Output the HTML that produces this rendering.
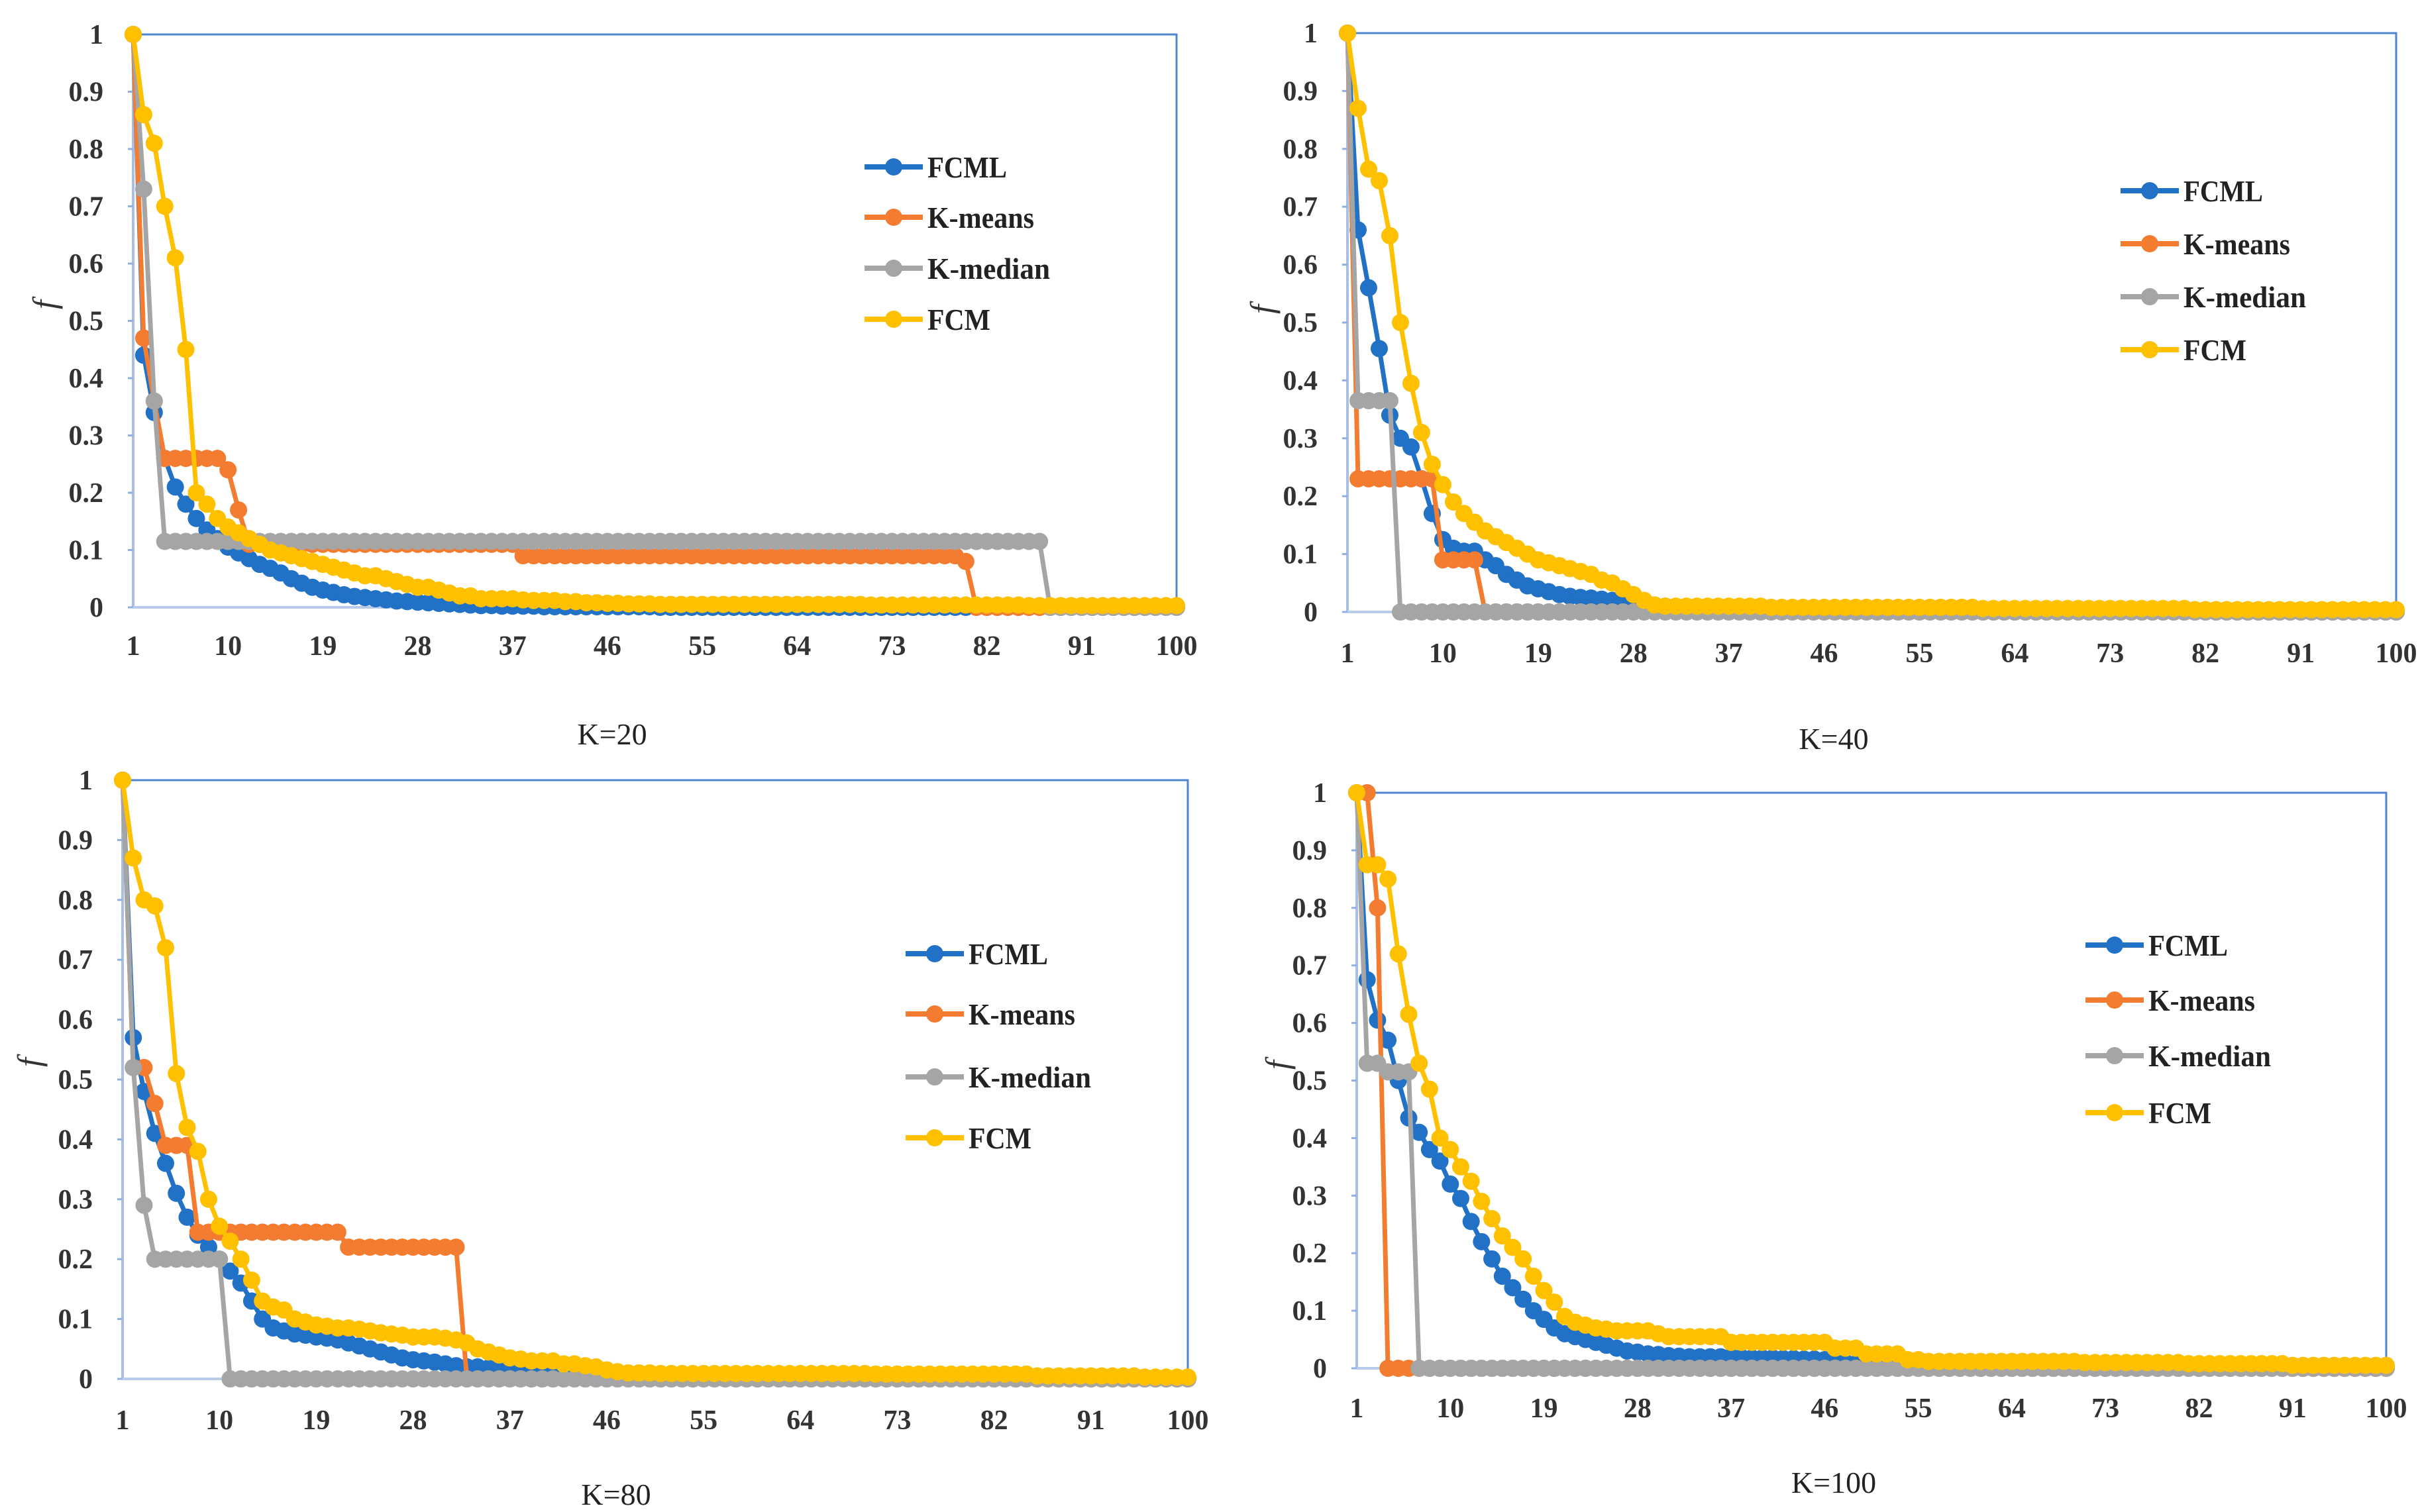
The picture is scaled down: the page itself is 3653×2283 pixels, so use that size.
<!DOCTYPE html>
<html><head><meta charset="utf-8"><style>
html,body{margin:0;padding:0;background:#fff;}
svg{display:block;}
</style></head><body>
<svg id="fig" width="3653" height="2283" viewBox="0 0 3653 2283" xmlns="http://www.w3.org/2000/svg">
<rect width="3653" height="2283" fill="#fff"/>
</svg>
<script>
const seriesNames = ["FCML","K-means","K-median","FCM"];
const seriesColors = ["#2171c7","#f47c30","#a5a5a5","#ffc000"];
const xTickLabels = [1,10,19,28,37,46,55,64,73,82,91,100];
const yTickLabels = [0,0.1,0.2,0.3,0.4,0.5,0.6,0.7,0.8,0.9,1];
const panelTitles = ["K=20","K=40","K=80","K=100"];

const k20FCML = [1,.44,.34,.26,.21,.18,.155,.135,.12,.105,
.095,.085,.075,.068,.06,.05,.042,.035,.03,.026,
.022,.019,.017,.015,.013,.011,.01,.009,.008,.007,
.006,.005,.004,.003,.003,.002,.002,.002,.002,.001,
.001,.001,.001,.001,.001,.001,.001,.001,.001,.001,
0,0,0,0,0,0,0,0,0,0,
0,0,0,0,0,0,0,0,0,0,
0,0,0,0,0,0,0,0,0,0,
0,0,0,0,0,0,0,0,0,0,
0,0,0,0,0,0,0,0,0,0];
const k20KMeans = [1,.47,.36,.26,.26,.26,.26,.26,.26,.24,
.17,.11,.11,.11,.11,.11,.11,.11,.11,.11,
.11,.11,.11,.11,.11,.11,.11,.11,.11,.11,
.11,.11,.11,.11,.11,.11,.11,.09,.09,.09,
.09,.09,.09,.09,.09,.09,.09,.09,.09,.09,
.09,.09,.09,.09,.09,.09,.09,.09,.09,.09,
.09,.09,.09,.09,.09,.09,.09,.09,.09,.09,
.09,.09,.09,.09,.09,.09,.09,.09,.09,.08,
0,0,0,0,0,0,0,0,0,0,
0,0,0,0,0,0,0,0,0,0];
const k20KMedian = [1,.73,.36,.115,.115,.115,.115,.115,.115,.115,
.115,.115,.115,.115,.115,.115,.115,.115,.115,.115,
.115,.115,.115,.115,.115,.115,.115,.115,.115,.115,
.115,.115,.115,.115,.115,.115,.115,.115,.115,.115,
.115,.115,.115,.115,.115,.115,.115,.115,.115,.115,
.115,.115,.115,.115,.115,.115,.115,.115,.115,.115,
.115,.115,.115,.115,.115,.115,.115,.115,.115,.115,
.115,.115,.115,.115,.115,.115,.115,.115,.115,.115,
.115,.115,.115,.115,.115,.115,.115,0,0,0,
0,0,0,0,0,0,0,0,0,0];
const k20FCM = [1,.86,.81,.70,.61,.45,.20,.18,.155,.14,
.13,.12,.11,.10,.095,.09,.085,.08,.075,.07,
.065,.06,.055,.055,.05,.045,.04,.035,.035,.03,
.025,.02,.02,.015,.015,.015,.015,.013,.012,.012,
.012,.01,.01,.008,.008,.007,.007,.006,.006,.006,
.005,.005,.005,.005,.005,.005,.005,.005,.005,.005,
.005,.005,.005,.005,.005,.005,.005,.005,.005,.005,
.004,.004,.004,.004,.004,.004,.004,.004,.004,.004,
.004,.004,.004,.004,.004,.003,.003,.003,.003,.003,
.003,.003,.003,.003,.003,.003,.003,.003,.003,.003];

const k40FCML = [1,.66,.56,.455,.34,.30,.285,.23,.17,.125,
.11,.105,.105,.09,.08,.065,.055,.045,.04,.035,
.03,.027,.025,.024,.022,.02,.018,.016,.014,.012,
.01,.008,.006,.005,.004,.003,.003,.002,.002,.002,
.001,.001,.001,.001,.001,.001,.001,.001,.001,.001,
.001,.001,.001,.001,.001,.001,.001,.001,.001,.001,
0,0,0,0,0,0,0,0,0,0,
0,0,0,0,0,0,0,0,0,0,
0,0,0,0,0,0,0,0,0,0,
0,0,0,0,0,0,0,0,0,0];
const k40KMeans = [1,.23,.23,.23,.23,.23,.23,.23,.23,.09,
.09,.09,.09,0,0,0,0,0,0,0,
0,0,0,0,0,0,0,0,0,0,
0,0,0,0,0,0,0,0,0,0,
0,0,0,0,0,0,0,0,0,0,
0,0,0,0,0,0,0,0,0,0,
0,0,0,0,0,0,0,0,0,0,
0,0,0,0,0,0,0,0,0,0,
0,0,0,0,0,0,0,0,0,0,
0,0,0,0,0,0,0,0,0,0];
const k40KMedian = [1,.365,.365,.365,.365,0,0,0,0,0,
0,0,0,0,0,0,0,0,0,0,
0,0,0,0,0,0,0,0,0,0,
0,0,0,0,0,0,0,0,0,0,
0,0,0,0,0,0,0,0,0,0,
0,0,0,0,0,0,0,0,0,0,
0,0,0,0,0,0,0,0,0,0,
0,0,0,0,0,0,0,0,0,0,
0,0,0,0,0,0,0,0,0,0,
0,0,0,0,0,0,0,0,0,0];
const k40FCM = [1,.87,.765,.745,.65,.50,.395,.31,.255,.22,
.19,.17,.155,.14,.13,.12,.11,.10,.09,.085,
.08,.075,.07,.065,.055,.05,.04,.03,.02,.012,
.01,.01,.01,.01,.01,.01,.01,.01,.01,.01,
.008,.008,.008,.008,.008,.008,.008,.008,.008,.008,
.008,.008,.008,.008,.008,.008,.008,.008,.008,.008,
.006,.006,.006,.006,.006,.006,.006,.006,.006,.006,
.006,.006,.006,.006,.006,.006,.006,.006,.006,.006,
.004,.004,.004,.004,.004,.004,.004,.004,.004,.004,
.004,.004,.004,.004,.004,.004,.004,.004,.004,.004];

const k80FCML = [1,.57,.48,.41,.36,.31,.27,.24,.22,.20,
.18,.16,.13,.10,.085,.08,.075,.073,.07,.068,
.065,.06,.055,.05,.045,.04,.035,.032,.03,.028,
.025,.022,.02,.02,.018,.017,.016,.015,.015,.015,
.013,.012,.011,.01,.01,.009,.008,.007,.006,.005,
.004,.004,.004,.004,.004,.004,.004,.004,.004,.004,
.004,.004,.004,.004,.004,.003,.003,.003,.003,.003,
.003,.003,.003,.003,.003,.003,.003,.003,.003,.003,
.002,.002,.002,.002,.002,.002,.002,.002,.002,.002,
.002,.002,.002,.002,.002,.002,.002,.002,.002,.002];
const k80KMeans = [1,.52,.52,.46,.39,.39,.39,.245,.245,.245,
.245,.245,.245,.245,.245,.245,.245,.245,.245,.245,
.245,.22,.22,.22,.22,.22,.22,.22,.22,.22,
.22,.22,0,0,0,0,0,0,0,0,
0,0,0,0,0,0,0,0,0,0,
0,0,0,0,0,0,0,0,0,0,
0,0,0,0,0,0,0,0,0,0,
0,0,0,0,0,0,0,0,0,0,
0,0,0,0,0,0,0,0,0,0,
0,0,0,0,0,0,0,0,0,0];
const k80KMedian = [1,.52,.29,.20,.20,.20,.20,.20,.20,.20,
0,0,0,0,0,0,0,0,0,0,
0,0,0,0,0,0,0,0,0,0,
0,0,0,0,0,0,0,0,0,0,
0,0,0,0,0,0,0,0,0,0,
0,0,0,0,0,0,0,0,0,0,
0,0,0,0,0,0,0,0,0,0,
0,0,0,0,0,0,0,0,0,0,
0,0,0,0,0,0,0,0,0,0,
0,0,0,0,0,0,0,0,0,0];
const k80FCM = [1,.87,.80,.79,.72,.51,.42,.38,.30,.255,
.23,.20,.165,.13,.12,.115,.10,.095,.09,.088,
.085,.085,.083,.08,.077,.075,.073,.07,.07,.07,
.068,.065,.06,.05,.045,.04,.035,.033,.03,.03,
.03,.025,.025,.022,.02,.015,.012,.01,.01,.01,
.009,.009,.009,.009,.009,.009,.009,.009,.009,.009,
.009,.009,.009,.009,.009,.009,.009,.009,.009,.009,
.008,.008,.008,.008,.008,.008,.008,.008,.008,.008,
.008,.008,.008,.008,.008,.005,.005,.005,.005,.005,
.005,.005,.005,.005,.005,.003,.003,.003,.003,.003];

const k100FCML = [1,.675,.605,.57,.50,.435,.41,.38,.36,.32,
.295,.255,.22,.19,.16,.14,.12,.10,.085,.07,
.06,.055,.05,.045,.04,.035,.03,.028,.025,.024,
.022,.021,.02,.02,.02,.02,.02,.019,.018,.018,
.018,.017,.017,.016,.016,.015,.012,.01,.008,.006,
.004,.004,.004,.004,.004,.004,.004,.004,.004,.004,
.004,.004,.004,.004,.004,.004,.004,.004,.004,.004,
.002,.002,.002,.002,.002,.002,.002,.002,.002,.002,
.002,.002,.002,.002,.002,.001,.001,.001,.001,.001,
.001,.001,.001,.001,.001,.001,.001,.001,.001,.001];
const k100KMeans = [1,1,.8,0,0,0,0,0,0,0,
0,0,0,0,0,0,0,0,0,0,
0,0,0,0,0,0,0,0,0,0,
0,0,0,0,0,0,0,0,0,0,
0,0,0,0,0,0,0,0,0,0,
0,0,0,0,0,0,0,0,0,0,
0,0,0,0,0,0,0,0,0,0,
0,0,0,0,0,0,0,0,0,0,
0,0,0,0,0,0,0,0,0,0,
0,0,0,0,0,0,0,0,0,0];
const k100KMedian = [1,.53,.53,.515,.515,.515,0,0,0,0,
0,0,0,0,0,0,0,0,0,0,
0,0,0,0,0,0,0,0,0,0,
0,0,0,0,0,0,0,0,0,0,
0,0,0,0,0,0,0,0,0,0,
0,0,0,0,0,0,0,0,0,0,
0,0,0,0,0,0,0,0,0,0,
0,0,0,0,0,0,0,0,0,0,
0,0,0,0,0,0,0,0,0,0,
0,0,0,0,0,0,0,0,0,0];
const k100FCM = [1,.875,.875,.85,.72,.615,.53,.485,.40,.38,
.35,.325,.29,.26,.23,.21,.19,.16,.135,.115,
.09,.08,.075,.07,.068,.065,.065,.065,.065,.06,
.055,.055,.055,.055,.055,.055,.045,.045,.045,.045,
.045,.045,.045,.045,.045,.045,.035,.035,.035,.025,
.025,.025,.025,.015,.015,.012,.012,.012,.012,.012,
.012,.012,.012,.012,.012,.012,.012,.012,.012,.012,
.01,.01,.01,.01,.01,.01,.01,.01,.01,.01,
.008,.008,.008,.008,.008,.008,.008,.008,.008,.008,
.005,.005,.005,.005,.005,.005,.005,.005,.005,.005];

const panelData = [
  [k20FCML,k20KMeans,k20KMedian,k20FCM],
  [k40FCML,k40KMeans,k40KMedian,k40FCM],
  [k80FCML,k80KMeans,k80KMedian,k80FCM],
  [k100FCML,k100KMeans,k100KMedian,k100FCM]
];

const layouts = [
  {l:201,r:1776,t:52,b:917,xl:974,tx:924,ty:1108,lgx:1305,lgy:[252,328,405,482],fx:70,fy:460},
  {l:2034,r:3617,t:50,b:924,xl:985,tx:2768,ty:1115,lgx:3201,lgy:[288,368,448,528],fx:1908,fy:467},
  {l:185,r:1793,t:1178,b:2082,xl:2143,tx:930,ty:2256,lgx:1367,lgy:[1440,1531,1626,1718],fx:47,fy:1604},
  {l:2048,r:3602,t:1197,b:2066,xl:2125,tx:2768,ty:2238,lgx:3148,lgy:[1427,1510,1594,1680],fx:1931,fy:1608}
];
const legendWidths = [120,161,185,95];

const NS = "http://www.w3.org/2000/svg";
const svg = document.getElementById("fig");
function mk(tag, attrs, parent){
  const e = document.createElementNS(NS, tag);
  for (const k in attrs) e.setAttribute(k, attrs[k]);
  (parent||svg).appendChild(e);
  return e;
}
const FONT = '"Liberation Serif", "DejaVu Serif", serif';

layouts.forEach((L, p) => {
  const g = mk("g", {});
  
  
  const xs = i => L.l + (i - 1) * (L.r - L.l) / 99;
  const ys = v => L.b - v * (L.b - L.t);

  const frame = mk("rect", {x:L.l, y:L.t, width:L.r-L.l, height:L.b-L.t, fill:"none", stroke:"#4f86d0", "stroke-width":3}, g);
  
  
  const yAxis = mk("line", {x1:L.l, y1:L.t, x2:L.l, y2:L.b, stroke:"#a9c0e4", "stroke-width":4}, g);
  
  
  const xAxis = mk("line", {x1:L.l, y1:L.b, x2:L.r, y2:L.b, stroke:"#b8cbe8", "stroke-width":4}, g);
  
  

  yTickLabels.forEach(v => {
    const y = ys(v);
    const tk = mk("line", {x1:L.l-8, y1:y, x2:L.l, y2:y, stroke:"#8fb0e0", "stroke-width":3}, g);
    
    
    const t = mk("text", {x:L.l-45, y:y+14, "text-anchor":"end", "font-family":FONT, "font-size":42, "font-weight":"bold", fill:"#333"}, g);
    t.textContent = String(v);
    
    
  });
  xTickLabels.forEach(v => {
    const t = mk("text", {x:xs(v), y:L.xl+15, "text-anchor":"middle", "font-family":FONT, "font-size":42, "font-weight":"bold", fill:"#333"}, g);
    t.textContent = String(v);
    
    
  });

  const fl = mk("text", {x:0, y:0, transform:`translate(${L.fx+14},${L.fy}) rotate(-90)`, "text-anchor":"middle", "font-family":FONT, "font-size":50, "font-style":"italic", fill:"#333"}, g);
  fl.textContent = "f";
  
  

  const tt = mk("text", {x:L.tx, y:L.ty+16, "text-anchor":"middle", "font-family":FONT, "font-size":46, fill:"#222"}, g);
  tt.textContent = panelTitles[p];
  
  

  panelData[p].forEach((arr, s) => {
    const col = seriesColors[s];
    const sg = mk("g", {}, g);
    
    
    const pts = arr.map((v, i) => xs(i + 1).toFixed(1) + "," + ys(v).toFixed(1)).join(" ");
    const pl = mk("polyline", {points:pts, fill:"none", stroke:col, "stroke-width":7, "stroke-linejoin":"round"}, sg);
    
    
    arr.forEach((v, i) => {
      const c = mk("circle", {cx:xs(i + 1), cy:ys(v), r:13, fill:col}, sg);
      
      
    });
  });

  seriesNames.forEach((n, s) => {
    const y = L.lgy[s];
    const lg = mk("g", {}, g);
    
    
    mk("line", {x1:L.lgx, y1:y, x2:L.lgx+88, y2:y, stroke:seriesColors[s], "stroke-width":8}, lg);
    mk("circle", {cx:L.lgx+44, cy:y, r:13, fill:seriesColors[s]}, lg);
    const t = mk("text", {x:L.lgx+95, y:y+16, "font-family":FONT, "font-size":46, "font-weight":"bold", fill:"#222", textLength:legendWidths[s], lengthAdjust:"spacingAndGlyphs"}, lg);
    t.textContent = n;
  });
});
</script>
</body></html>
